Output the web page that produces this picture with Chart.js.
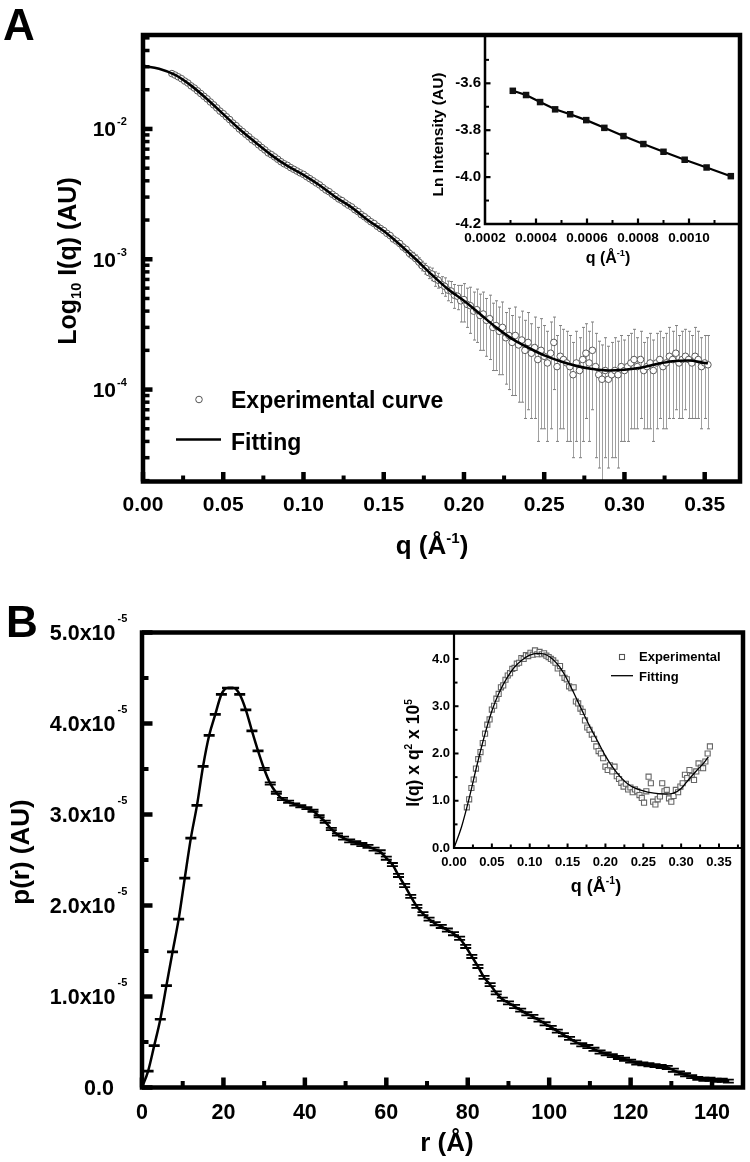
<!DOCTYPE html>
<html>
<head>
<meta charset="utf-8">
<title>SAXS profile and pair distance distribution</title>
<script src="https://cdn.jsdelivr.net/npm/chart.js@4.4.1/dist/chart.umd.min.js"></script>
<style>
  html, body { margin: 0; padding: 0; background: #fff; }
  #page { position: relative; width: 750px; height: 1162px; overflow: hidden; background: #fff; }
  #page canvas { position: absolute; }
</style>
</head>
<body>
<div id="page">
  <canvas id="chartA" width="750" height="580" style="left:0;top:0"></canvas>
  <canvas id="insetA" width="370" height="300" style="left:380px;top:0"></canvas>
  <canvas id="chartB" width="750" height="582" style="left:0;top:580px"></canvas>
  <canvas id="insetB" width="370" height="320" style="left:380px;top:580px"></canvas>
</div>
<script>
// ---- Panel A : scattering curve, intensities in units of 1e-4 ----
const qStartA = 0.018;
const qStepA = 0.002;
const intensA = [
  266, 259, 251, 243, 233, 225, 214, 206, 196, 187,
  178, 170, 161, 153, 145, 137, 131, 124, 118, 111,
  106, 100, 95.5, 91, 87, 82.5, 79.5, 75.5, 72, 69,
  65.5, 63.5, 61, 58.5, 56, 54, 52.5, 50.5, 49, 47.5,
  46, 44.8, 43, 41.5, 40, 38.5, 37.2, 35.5, 34, 33,
  31.5, 30.3, 29, 28.2, 27, 26, 25.2, 24, 23.2, 22,
  21.2, 20.3, 19.4, 18.8, 17.9, 17.2, 16.6, 15.8, 15.2, 14.3,
  13.8, 13.2, 12.4, 11.9, 11.1, 10.6, 10.1, 9.5, 8.9, 8.5,
  7.9, 7.7, 7.1, 6.9, 6.4, 6.2, 5.8, 5.7, 5.3, 5.2,
  4.8, 4.9, 4.5, 4.4, 4.0, 4.1, 3.7, 3.8, 3.4, 3.5,
  3.0, 3.1, 2.8, 3.0, 2.5, 2.6, 2.3, 2.6, 2.2, 2.4,
  2.0, 2.3, 1.9, 2.1, 1.7, 2.0, 1.8, 1.6, 1.9, 2.3,
  1.5, 1.8, 1.7, 1.6, 1.5, 1.3, 1.6, 1.4, 1.7, 1.9,
  1.6, 2.0, 1.5, 1.3, 1.2, 1.4, 1.2, 1.3, 1.4, 1.3,
  1.5, 1.4, 1.5, 1.6, 1.7, 1.5, 1.7, 1.4, 1.5, 1.6,
  1.4, 1.6, 1.7, 1.5, 1.6, 1.8, 1.7, 1.9, 1.6, 1.7,
  1.8, 1.7, 1.6, 1.8, 1.7, 1.5, 1.6, 1.55
];
const errA = [
  0.3, 0.3, 0.3, 0.3, 0.3, 0.3, 0.3, 0.3, 0.3, 0.3,
  0.3, 0.3, 0.3, 0.3, 0.3, 0.3, 0.3, 0.3, 0.3, 0.3,
  0.3, 0.3, 0.3, 0.3, 0.3, 0.3, 0.3, 0.3, 0.3, 0.3,
  0.35, 0.35, 0.35, 0.35, 0.35, 0.35, 0.35, 0.35, 0.35, 0.35,
  0.4, 0.4, 0.4, 0.4, 0.4, 0.45, 0.45, 0.45, 0.45, 0.45,
  0.5, 0.5, 0.5, 0.5, 0.5, 0.5, 0.5, 0.5, 0.5, 0.5,
  0.55, 0.55, 0.55, 0.55, 0.55, 0.55, 0.55, 0.55, 0.55, 0.55,
  0.6, 0.6, 0.65, 0.65, 0.7, 0.7, 0.7, 0.75, 0.75, 0.8,
  0.8, 0.85, 0.9, 0.9, 0.95, 1.0, 1.0, 1.05, 1.1, 1.1,
  1.5, 1.6, 1.5, 1.7, 1.6, 1.8, 1.7, 1.8, 1.6, 1.8,
  1.6, 1.7, 1.5, 1.7, 1.4, 1.6, 1.4, 1.7, 1.4, 1.6,
  1.4, 1.6, 1.3, 1.5, 1.3, 1.5, 1.3, 1.2, 1.4, 1.3,
  1.1, 1.3, 1.2, 1.2, 1.1, 1.0, 1.2, 1.1, 1.3, 1.3,
  1.2, 1.3, 1.2, 1.05, 1.0, 1.1, 0.95, 1.0, 1.1, 1.05,
  1.1, 1.0, 1.1, 1.1, 1.2, 1.0, 1.1, 0.9, 1.0, 1.1,
  1.0, 1.1, 1.1, 1.0, 1.1, 1.2, 1.1, 1.2, 1.0, 1.1,
  1.1, 1.1, 1.0, 1.2, 1.1, 1.0, 1.0, 1.05
];
const qFitA = [0, 0.01, 0.02, 0.03, 0.04, 0.05, 0.06, 0.07, 0.08, 0.09, 0.10, 0.11, 0.12,
  0.13, 0.14, 0.15, 0.16, 0.17, 0.18, 0.19, 0.20, 0.21, 0.22, 0.23, 0.24, 0.25, 0.26,
  0.27, 0.28, 0.29, 0.30, 0.31, 0.32, 0.33, 0.34, 0.35, 0.352];
const intFitA = [305, 290, 260, 215, 169, 130, 100, 79, 63, 52, 44.5, 37, 30,
  25, 20, 16.5, 13, 10, 7.6, 5.9, 4.8, 3.8, 3.0, 2.45, 2.1, 1.83, 1.65,
  1.52, 1.44, 1.40, 1.42, 1.47, 1.57, 1.65, 1.67, 1.60, 1.59];

// ---- Inset A : Guinier plot ----
const qGuinier = [0.000309, 0.000361, 0.000416, 0.000475, 0.000534, 0.000597, 0.000668,
  0.000743, 0.000821, 0.000900, 0.000983, 0.001069, 0.001164];
const lnGuinier = [-3.632, -3.650, -3.680, -3.711, -3.732, -3.757, -3.790,
  -3.825, -3.859, -3.892, -3.926, -3.959, -3.996];

// ---- Panel B : p(r), values in units of 1e-5 ----
const rStepB = 1.5;
const prB = [
  0.00, 0.18, 0.46, 0.75, 1.12, 1.49, 1.85, 2.30, 2.74, 3.10,
  3.53, 3.87, 4.10, 4.32, 4.39, 4.39, 4.32, 4.15, 3.92, 3.70,
  3.50, 3.34, 3.24, 3.17, 3.14, 3.11, 3.09, 3.07, 3.04, 2.98,
  2.92, 2.84, 2.78, 2.74, 2.71, 2.69, 2.67, 2.65, 2.62, 2.59,
  2.52, 2.45, 2.33, 2.22, 2.10, 1.99, 1.91, 1.85, 1.80, 1.77,
  1.73, 1.69, 1.64, 1.55, 1.44, 1.33, 1.21, 1.13, 1.04, 0.97,
  0.93, 0.89, 0.85, 0.81, 0.78, 0.74, 0.70, 0.66, 0.62, 0.58,
  0.54, 0.50, 0.47, 0.45, 0.42, 0.39, 0.37, 0.35, 0.33, 0.31,
  0.29, 0.27, 0.26, 0.25, 0.24, 0.23, 0.22, 0.19, 0.16, 0.14,
  0.12, 0.10, 0.09, 0.09, 0.08, 0.08, 0.07
];
const prErrB = [
  0.005, 0.005, 0.005, 0.005, 0.005, 0.005, 0.005, 0.005, 0.005, 0.005,
  0.005, 0.005, 0.005, 0.005, 0.005, 0.005, 0.005, 0.005, 0.005, 0.005,
  0.012, 0.012, 0.012, 0.012, 0.012, 0.012, 0.012, 0.012, 0.012, 0.012,
  0.012, 0.012, 0.012, 0.017, 0.017, 0.017, 0.017, 0.017, 0.017, 0.017,
  0.017, 0.017, 0.017, 0.017, 0.017, 0.017, 0.017, 0.017, 0.017, 0.017,
  0.017, 0.017, 0.017, 0.017, 0.017, 0.017, 0.017, 0.017, 0.017, 0.017,
  0.017, 0.017, 0.017, 0.017, 0.017, 0.017, 0.017, 0.017, 0.017, 0.017,
  0.017, 0.017, 0.017, 0.017, 0.017, 0.017, 0.017, 0.017, 0.017, 0.017,
  0.017, 0.017, 0.017, 0.017, 0.017, 0.017, 0.017, 0.017, 0.017, 0.017,
  0.017, 0.017, 0.017, 0.017, 0.017, 0.017, 0.017
];

// ---- Inset B : Kratky plot, I(q) x q^2 x 1e5 ----
const qStartBi = 0.017;
const qStepBi = 0.003;
const kratkyExp = [
  0.86, 1.03, 1.27, 1.45, 1.68, 1.88, 2.03, 2.22, 2.42, 2.61,
  2.72, 2.93, 3.01, 3.16, 3.26, 3.40, 3.44, 3.56, 3.65, 3.70,
  3.79, 3.81, 3.90, 3.92, 4.02, 4.00, 4.08, 4.06, 4.13, 4.09,
  4.18, 4.10, 4.15, 4.10, 4.12, 4.07, 4.04, 4.00, 3.97, 3.92,
  3.80, 3.85, 3.70, 3.60, 3.57, 3.42, 3.38, 3.40, 3.10, 3.06,
  2.95, 2.88, 2.70, 2.55, 2.50, 2.40, 2.31, 2.15, 2.05, 2.00,
  1.90, 1.72, 1.65, 1.75, 1.62, 1.72, 1.52, 1.46, 1.38, 1.30,
  1.36, 1.24, 1.28, 1.18, 1.24, 1.20, 1.12, 1.06, 0.96, 1.20,
  1.51, 1.37, 0.98, 0.92, 1.03, 1.09, 1.37, 1.20, 1.23, 1.05,
  0.98, 1.10, 1.23, 1.18, 1.30, 1.37, 1.55, 1.48, 1.65, 1.52,
  1.44, 1.62, 1.79, 1.70, 1.69, 1.83, 2.00, 2.15
];
const qFitBi = [0, 0.01, 0.02, 0.03, 0.04, 0.05, 0.06, 0.07, 0.08, 0.09, 0.10, 0.11,
  0.12, 0.13, 0.14, 0.15, 0.16, 0.17, 0.18, 0.19, 0.20, 0.21, 0.22, 0.23, 0.24,
  0.25, 0.26, 0.27, 0.28, 0.29, 0.30, 0.31, 0.32, 0.33, 0.336];
const kratkyFit = [0.00, 0.45, 1.05, 1.73, 2.36, 2.90, 3.30, 3.60, 3.83, 3.98, 4.08, 4.12,
  4.10, 4.00, 3.82, 3.55, 3.22, 2.88, 2.55, 2.25, 1.95, 1.70, 1.50, 1.35, 1.26,
  1.21, 1.17, 1.15, 1.14, 1.16, 1.26, 1.45, 1.63, 1.80, 1.93];

// ---- tick labels ----
const xTicksA = [0, 0.05, 0.10, 0.15, 0.20, 0.25, 0.30, 0.35];
const yDecadesA = [-4, -3, -2];
const xTicksAi = [0.0002, 0.0004, 0.0006, 0.0008, 0.0010];
const yTicksAi = [-4.2, -4.0, -3.8, -3.6];
const xTicksB = [0, 20, 40, 60, 80, 100, 120, 140];
const yTicksB = [0, 1, 2, 3, 4, 5];
const xTicksBi = [0, 0.05, 0.10, 0.15, 0.20, 0.25, 0.30, 0.35];
const yTicksBi = [0, 1, 2, 3, 4];

// ---------------------------------------------------------------
const FAMILY = '"Liberation Sans", Arial, Helvetica, sans-serif';
Chart.defaults.font.family = FAMILY;
Chart.defaults.font.weight = 'bold';
Chart.defaults.color = '#000';

function font(size) { return 'bold ' + size + 'px ' + FAMILY; }

// text with super/subscripts, y is the baseline
function rich(ctx, parts, x, y, size, align) {
  const small = size * 0.58;
  const widths = parts.map(p => { ctx.font = font(p[1] ? small : size); return ctx.measureText(p[0]).width; });
  const total = widths.reduce((a, b) => a + b, 0);
  let cx = align === 'center' ? x - total / 2 : align === 'right' ? x - total : x;
  ctx.textAlign = 'left';
  ctx.textBaseline = 'alphabetic';
  ctx.fillStyle = '#000';
  parts.forEach((p, i) => {
    ctx.font = font(p[1] ? small : size);
    const dy = p[1] === 'sup' ? -size * 0.42 : p[1] === 'sub' ? size * 0.2 : 0;
    ctx.fillText(p[0], cx, y + dy);
    cx += widths[i];
  });
}

// vertical title, (cx, cy) is the centre of the capitals
function richUp(ctx, parts, cx, cy, size) {
  ctx.save();
  ctx.translate(cx, cy);
  ctx.rotate(-Math.PI / 2);
  rich(ctx, parts, 0, size * 0.36, size, 'center');
  ctx.restore();
}

function mids(arr) {
  const out = [];
  for (let i = 0; i < arr.length - 1; i++) out.push((arr[i] + arr[i + 1]) / 2);
  return out;
}

// ticks pointing inside the plot
function ticksX(chart, vals, len, w) {
  const s = chart.scales.x, a = chart.chartArea, ctx = chart.ctx;
  ctx.fillStyle = '#000';
  vals.forEach(v => {
    const p = s.getPixelForValue(v);
    if (p < a.left - 1 || p > a.right + 1) return;
    ctx.fillRect(p - w / 2, a.bottom - len, w, len);
  });
}
function ticksY(chart, vals, len, w) {
  const s = chart.scales.y, a = chart.chartArea, ctx = chart.ctx;
  ctx.fillStyle = '#000';
  vals.forEach(v => {
    const p = s.getPixelForValue(v);
    if (p < a.top - 1 || p > a.bottom + 1) return;
    ctx.fillRect(a.left, p - w / 2, len, w);
  });
}

function frame(chart, w) {
  const a = chart.chartArea, ctx = chart.ctx;
  ctx.save();
  ctx.strokeStyle = '#000';
  ctx.lineWidth = w;
  ctx.strokeRect(a.left, a.top, a.right - a.left, a.bottom - a.top);
  ctx.restore();
}
function leftBottom(chart, w) {
  const a = chart.chartArea, ctx = chart.ctx;
  ctx.save();
  ctx.strokeStyle = '#000';
  ctx.lineWidth = w;
  ctx.beginPath();
  ctx.moveTo(a.left, a.top);
  ctx.lineTo(a.left, a.bottom);
  ctx.lineTo(a.right, a.bottom);
  ctx.stroke();
  ctx.restore();
}

function baseOptions(padTop, padRight, leftW, bottomH) {
  return {
    responsive: false,
    animation: false,
    devicePixelRatio: 1,
    layout: { padding: { top: padTop, right: padRight, left: 0, bottom: 0 } },
    plugins: { legend: { display: false }, tooltip: { enabled: false } },
    scales: {
      x: { type: 'linear', grid: { display: false, drawTicks: false }, border: { display: false },
           afterFit: s => { s.height = bottomH; } },
      y: { type: 'linear', grid: { display: false, drawTicks: false }, border: { display: false },
           afterFit: s => { s.width = leftW; } }
    }
  };
}

// ================= Panel A =================
const expA = intensA.map((v, i) => ({ x: qStartA + i * qStepA, y: v * 1e-4 }));
const fitA = intFitA.map((v, i) => ({ x: qFitA[i], y: v * 1e-4 }));

const optA = baseOptions(35, 10, 143, 98.5);
Object.assign(optA.scales.x, {
  min: 0, max: 0.372,
  afterBuildTicks: s => { s.ticks = xTicksA.map(v => ({ value: v })); },
  ticks: { autoSkip: false, maxRotation: 0, padding: 11, color: '#000',
           font: { size: 21, weight: 'bold' }, callback: v => v.toFixed(2) }
});
Object.assign(optA.scales.y, {
  type: 'logarithmic', min: 1.97e-5, max: 5.26e-2, ticks: { display: false }
});

const plugA = {
  id: 'plugA',
  beforeDatasetsDraw(chart) {
    const { ctx, chartArea: a, scales: { x, y } } = chart;
    ctx.save();
    ctx.beginPath();
    ctx.rect(a.left, a.top, a.right - a.left, a.bottom - a.top);
    ctx.clip();
    ctx.lineWidth = 1;
    intensA.forEach((v, i) => {
      const px = Math.round(x.getPixelForValue(qStartA + i * qStepA)) + 0.5;
      const hi = y.getPixelForValue((v + errA[i]) * 1e-4);
      const lo = y.getPixelForValue(Math.max(v - errA[i], 0.05) * 1e-4);
      ctx.strokeStyle = '#a0a0a0';
      ctx.beginPath();
      ctx.moveTo(px, hi); ctx.lineTo(px, lo);
      ctx.stroke();
      ctx.strokeStyle = '#808080';
      ctx.beginPath();
      ctx.moveTo(px - 1.5, hi); ctx.lineTo(px + 1.5, hi);
      ctx.moveTo(px - 1.5, lo); ctx.lineTo(px + 1.5, lo);
      ctx.stroke();
    });
    ctx.restore();
  },
  afterDraw(chart) {
    const { ctx, scales: { y } } = chart;
    ctx.save();
    frame(chart, 4.5);
    ticksX(chart, xTicksA, 9.5, 4.5);
    ticksX(chart, mids(xTicksA), 6, 4);
    const majors = [], minors = [];
    for (let e = -5; e <= -2; e++) {
      majors.push(Math.pow(10, e));
      for (let k = 2; k <= 9; k++) minors.push(k * Math.pow(10, e));
    }
    ticksY(chart, majors, 9.5, 4.5);
    ticksY(chart, minors, 6.5, 3.5);

    // decade labels
    yDecadesA.forEach(e => {
      const p = y.getPixelForValue(Math.pow(10, e));
      ctx.fillStyle = '#000';
      ctx.textBaseline = 'alphabetic';
      ctx.font = font(21);
      ctx.textAlign = 'right';
      ctx.fillText('10', 116, p + 7.5);
      ctx.font = font(11);
      ctx.textAlign = 'left';
      ctx.fillText(String(e), 117, p - 3.5);
    });

    // axis titles
    richUp(ctx, [['Log', ''], ['10', 'sub'], [' I(q) (AU)', '']], 67, 261, 25);
    rich(ctx, [['q (Å', ''], ['-1', 'sup'], [')', '']], 432, 554, 26, 'center');

    // legend
    ctx.beginPath();
    ctx.arc(199, 399.5, 3.3, 0, Math.PI * 2);
    ctx.fillStyle = '#fff'; ctx.fill();
    ctx.strokeStyle = '#555'; ctx.lineWidth = 1; ctx.stroke();
    ctx.beginPath();
    ctx.moveTo(176, 439.5); ctx.lineTo(221, 439.5);
    ctx.strokeStyle = '#000'; ctx.lineWidth = 2.5; ctx.stroke();
    rich(ctx, [['Experimental curve', '']], 231, 408, 23, 'left');
    rich(ctx, [['Fitting', '']], 231, 450, 23, 'left');

    // panel letter
    rich(ctx, [['A', '']], 3, 40, 44, 'left');
    ctx.restore();
  }
};

new Chart(document.getElementById('chartA'), {
  type: 'scatter',
  data: {
    datasets: [
      { label: 'Experimental curve', data: expA, showLine: false, order: 2,
        pointStyle: 'circle', pointRadius: 3.3, pointBorderWidth: 1,
        pointBorderColor: '#5a5a5a', pointBackgroundColor: '#fff' },
      { label: 'Fitting', data: fitA, showLine: true, order: 1, pointRadius: 0,
        borderColor: '#000', borderWidth: 2.6, cubicInterpolationMode: 'monotone' }
    ]
  },
  options: optA,
  plugins: [plugA]
});

// ================= Inset A =================
const guinier = lnGuinier.map((v, i) => ({ x: qGuinier[i], y: v }));

const optAi = baseOptions(35, 10, 105, 76);
Object.assign(optAi.scales.x, {
  min: 0.0002, max: 0.0012,
  afterBuildTicks: s => { s.ticks = xTicksAi.map(v => ({ value: v })); },
  ticks: { autoSkip: false, maxRotation: 0, padding: 6, color: '#000',
           font: { size: 13.5, weight: 'bold' }, callback: v => v.toFixed(4) }
});
Object.assign(optAi.scales.y, {
  min: -4.2, max: -3.394,
  afterBuildTicks: s => { s.ticks = yTicksAi.map(v => ({ value: v })); },
  ticks: { autoSkip: false, padding: 4, color: '#000',
           font: { size: 15, weight: 'bold' }, callback: v => v.toFixed(1) }
});

const plugAi = {
  id: 'plugAi',
  afterDraw(chart) {
    const ctx = chart.ctx;
    ctx.save();
    leftBottom(chart, 2.5);
    ticksX(chart, [0.0004, 0.0006, 0.0008, 0.0010], 5.5, 2.2);
    ticksX(chart, [0.0003, 0.0005, 0.0007, 0.0009, 0.0011], 4, 2);
    ticksY(chart, [-4.0, -3.8, -3.6], 5.5, 2.2);
    ticksY(chart, [-4.1, -3.9, -3.7, -3.5], 4, 2);
    richUp(ctx, [['Ln Intensity (AU)', '']], 57.5, 134.5, 15.5);
    rich(ctx, [['q (Å', ''], ['-1', 'sup'], [')', '']], 228, 263, 16, 'center');
    ctx.restore();
  }
};

new Chart(document.getElementById('insetA'), {
  type: 'scatter',
  data: {
    datasets: [
      { label: 'Ln Intensity', data: guinier, showLine: true, borderColor: '#000', borderWidth: 2.2,
        pointStyle: 'rect', pointRadius: 4.6, pointBorderWidth: 0,
        pointBackgroundColor: '#111', pointBorderColor: '#111' }
    ]
  },
  options: optAi,
  plugins: [plugAi]
});

// ================= Panel B =================
const pr = prB.map((v, i) => ({ x: i * rStepB, y: v }));

const optB = baseOptions(52.5, 7, 142, 74.5);
Object.assign(optB.scales.x, {
  min: 0, max: 147.6,
  afterBuildTicks: s => { s.ticks = xTicksB.map(v => ({ value: v })); },
  ticks: { autoSkip: false, maxRotation: 0, padding: 12.6, color: '#000',
           font: { size: 21.5, weight: 'bold' }, callback: v => String(v) }
});
Object.assign(optB.scales.y, { min: 0, max: 5.0, ticks: { display: false } });

const plugB = {
  id: 'plugB',
  afterDatasetsDraw(chart) {
    const { ctx, scales: { x, y } } = chart;
    ctx.save();
    ctx.strokeStyle = '#000';
    ctx.lineWidth = 1.8;
    prB.forEach((v, i) => {
      if (v === 0) return;
      const px = x.getPixelForValue(i * rStepB);
      const t = y.getPixelForValue(v + prErrB[i]);
      const b = y.getPixelForValue(v - prErrB[i]);
      ctx.beginPath();
      ctx.moveTo(px - 5.5, t); ctx.lineTo(px + 5.5, t);
      ctx.moveTo(px - 5.5, b); ctx.lineTo(px + 5.5, b);
      ctx.moveTo(px, t); ctx.lineTo(px, b);
      ctx.stroke();
    });
    ctx.restore();
  },
  afterDraw(chart) {
    const { ctx, scales: { y } } = chart;
    ctx.save();
    frame(chart, 4.5);
    ticksX(chart, xTicksB, 10, 4.5);
    ticksX(chart, mids(xTicksB), 6.5, 4);
    ticksY(chart, yTicksB, 10.5, 4.5);
    ticksY(chart, mids(yTicksB), 6.5, 4);

    yTicksB.forEach(v => {
      const p = y.getPixelForValue(v);
      ctx.fillStyle = '#000';
      ctx.textBaseline = 'alphabetic';
      ctx.font = font(21.5);
      ctx.textAlign = 'right';
      if (v === 0) {
        ctx.fillText('0.0', 114, p + 7.7);
      } else {
        ctx.fillText(v.toFixed(1) + 'x10', 115.5, p + 7.7);
        ctx.font = font(11);
        ctx.textAlign = 'left';
        ctx.fillText('-5', 117.5, p - 10.5);
      }
    });

    richUp(ctx, [['p(r) (AU)', '']], 20, 272, 26);
    rich(ctx, [['r (Å)', '']], 447, 571, 26, 'center');
    rich(ctx, [['B', '']], 6, 57, 44, 'left');
    ctx.restore();
  }
};

new Chart(document.getElementById('chartB'), {
  type: 'scatter',
  data: {
    datasets: [
      { label: 'p(r)', data: pr, showLine: true, pointRadius: 0, borderColor: '#000',
        borderWidth: 2.5, cubicInterpolationMode: 'monotone' }
    ]
  },
  options: optB,
  plugins: [plugB]
});

// ================= Inset B =================
const kratky = kratkyExp.map((v, i) => ({ x: qStartBi + i * qStepBi, y: v }));
const kratkyLine = kratkyFit.map((v, i) => ({ x: qFitBi[i], y: v }));

const optBi = baseOptions(52.5, 7, 74, 52);
Object.assign(optBi.scales.x, {
  min: 0, max: 0.3817,
  afterBuildTicks: s => { s.ticks = xTicksBi.map(v => ({ value: v })); },
  ticks: { autoSkip: false, maxRotation: 0, padding: 6.2, color: '#000',
           font: { size: 13, weight: 'bold' }, callback: v => v.toFixed(2) }
});
Object.assign(optBi.scales.y, {
  min: 0, max: 4.56,
  afterBuildTicks: s => { s.ticks = yTicksBi.map(v => ({ value: v })); },
  ticks: { autoSkip: false, padding: 4, color: '#000',
           font: { size: 13, weight: 'bold' }, callback: v => v.toFixed(1) }
});

const plugBi = {
  id: 'plugBi',
  afterDraw(chart) {
    const ctx = chart.ctx;
    ctx.save();
    leftBottom(chart, 2.2);
    ticksX(chart, xTicksBi.slice(1), 4.5, 2);
    ticksX(chart, mids(xTicksBi).concat([0.375]), 3.5, 2);
    ticksY(chart, yTicksBi.slice(1), 4.5, 2);
    ticksY(chart, mids(yTicksBi), 3.5, 2);

    richUp(ctx, [['I(q) x q', ''], ['2', 'sup'], [' x 10', ''], ['5', 'sup']], 33, 173, 17.5);
    rich(ctx, [['q (Å', ''], ['-1', 'sup'], [')', '']], 216, 311.5, 18, 'center');

    // legend
    ctx.strokeStyle = '#555';
    ctx.lineWidth = 1.1;
    ctx.fillStyle = '#fff';
    ctx.fillRect(239.5, 74.5, 5, 5);
    ctx.strokeRect(239.5, 74.5, 5, 5);
    ctx.strokeStyle = '#000';
    ctx.lineWidth = 1.3;
    ctx.beginPath();
    ctx.moveTo(231, 95.7); ctx.lineTo(253, 95.7);
    ctx.stroke();
    rich(ctx, [['Experimental', '']], 259, 81, 13, 'left');
    rich(ctx, [['Fitting', '']], 259, 100.7, 13, 'left');
    ctx.restore();
  }
};

new Chart(document.getElementById('insetB'), {
  type: 'scatter',
  data: {
    datasets: [
      { label: 'Experimental', data: kratky, showLine: false, order: 2,
        pointStyle: 'rect', pointRadius: 3.6, pointBorderWidth: 1.1,
        pointBorderColor: '#666', pointBackgroundColor: 'rgba(255,255,255,0.85)' },
      { label: 'Fitting', data: kratkyLine, showLine: true, order: 1, pointRadius: 0,
        borderColor: '#000', borderWidth: 1.3, cubicInterpolationMode: 'monotone' }
    ]
  },
  options: optBi,
  plugins: [plugBi]
});
</script>
</body>
</html>
